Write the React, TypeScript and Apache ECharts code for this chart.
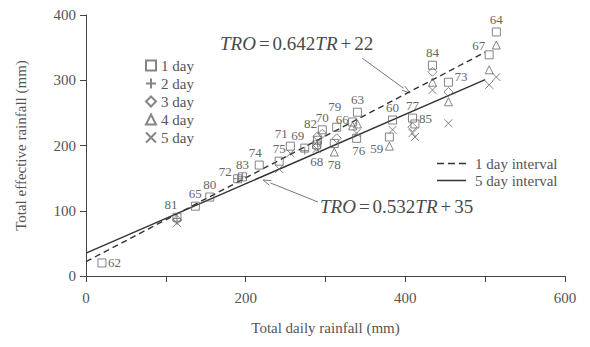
import React, { useEffect, useRef } from "react";
import * as echarts from "echarts";

// ---- data ----
const events = ["62","81","65","80","72","83","74","75","71","69","68","82","70","79","78","66","63","76","59","60","77","85","84","73","67","64"];
const totalRain = [20,114,137,155,190,196,217,242,256,274,289,290,296,314,311,334,340,339,380,384,409,412,434,454,505,514];
const day1 = [20,90,107,121,149,152,170,176,199,196,201,208,224,228,203,236,251,211,213,239,242,233,323,297,339,374];
const day2 = [null,88,null,null,149,152,null,null,null,192,null,204,null,null,null,null,null,null,null,null,null,null,null,null,null,null];
const day3 = [null,86,null,null,null,null,null,null,null,null,198,214,218,211,null,null,null,null,null,null,228,null,313,282,null,null];
const day4 = [null,null,null,null,null,null,null,null,null,null,null,null,null,null,190,230,233,null,199,null,null,null,297,267,316,354];
const day5 = [null,81,null,null,null,null,null,164,188,null,195,null,null,null,null,null,null,219,null,224,219,213,285,234,293,305];
const fit1Day = [[0,22],[500,343]];
const fit5Day = [[0,35],[500,301]];
const xTicks = [0,200,400,600];

// ---- label placement (style) ----
const labelPlace: Record<string, { pos: string; off: number[]; low?: boolean }> = {
  "62": { pos: "right", off: [0, 0] },
  "81": { pos: "top", off: [-6, 0] },
  "65": { pos: "top", off: [0, 0] },
  "80": { pos: "top", off: [0, 0] },
  "72": { pos: "left", off: [0, -7] },
  "83": { pos: "top", off: [0, 0] },
  "74": { pos: "top", off: [-4, 0] },
  "75": { pos: "top", off: [0, 0] },
  "71": { pos: "top", off: [-9, 0] },
  "69": { pos: "top", off: [-7, 0] },
  "68": { pos: "bottom", off: [0, 0], low: true },
  "82": { pos: "top", off: [-7, 0] },
  "70": { pos: "top", off: [0, 0] },
  "79": { pos: "top", off: [-2, -8] },
  "78": { pos: "bottom", off: [0, 0], low: true },
  "66": { pos: "left", off: [2, -3] },
  "63": { pos: "top", off: [0, 0] },
  "76": { pos: "bottom", off: [2, 0], low: true },
  "59": { pos: "left", off: [0, 2], low: true },
  "60": { pos: "top", off: [0, 0] },
  "77": { pos: "top", off: [0, 0] },
  "85": { pos: "right", off: [-2, -5] },
  "84": { pos: "top", off: [0, 0] },
  "73": { pos: "right", off: [0, -6] },
  "67": { pos: "left", off: [2, -9] },
  "64": { pos: "top", off: [0, 0] },
};

const FONT = "'Liberation Serif', 'DejaVu Serif', serif";
const INK = "#555";

function pts(vals: (number | null)[]) {
  const out: number[][] = [];
  vals.forEach((v, i) => { if (v !== null) out.push([totalRain[i], v]); });
  return out;
}

function arrow(x1: number, y1: number, x2: number, y2: number) {
  const a = Math.atan2(y2 - y1, x2 - x1);
  const L = 8, W = 2.5;
  const bx = x2 - L * Math.cos(a), by = y2 - L * Math.sin(a);
  const px = -Math.sin(a) * W, py = Math.cos(a) * W;
  return [
    { type: "line", shape: { x1, y1, x2: bx, y2: by }, style: { stroke: "#777", lineWidth: 1 } },
    { type: "polyline", shape: { points: [[bx + px, by + py], [x2, y2], [bx - px, by - py]] }, style: { stroke: "#777", lineWidth: 1, fill: "none" } },
  ];
}

export default function App() {
  const ref = useRef<HTMLDivElement>(null);
  useEffect(() => {
    const chart = echarts.init(ref.current!, null, { renderer: "svg" });
    const sym = { color: "transparent", borderColor: "#666", borderWidth: 1 };
    const mk = (name: string, symbol: string, vals: (number | null)[], size = 8) => ({
      name, type: "scatter", symbol, symbolSize: size, data: pts(vals), itemStyle: sym, z: 3,
    });
    const labelData = events.map((e, i) => {
      const p = labelPlace[e];
      const stack = [day1[i], day2[i], day3[i], day4[i], day5[i]].filter((v) => v !== null) as number[];
      const y = p.low ? Math.min(...stack) : Math.max(...stack);
      return [totalRain[i], y, i];
    });
    const base = { fontFamily: FONT, fontSize: 19, fill: "#4a4a4a", fontWeight: "normal" };
    const rich = {
      i: { ...base, fontStyle: "italic" },
      n: { ...base },
      o: { ...base, padding: [0, 3, 0, 3] },
    };
    chart.setOption({
      animation: false,
      backgroundColor: "#fff",
      color: ["#666"],
      textStyle: { fontFamily: FONT },
      grid: { left: 86, right: 25, top: 15, bottom: 71, containLabel: false, outerBoundsMode: "none" },
      xAxis: {
        type: "value", min: 0, max: 600, interval: 100,
        name: "Total daily rainfall (mm)", nameLocation: "middle", nameGap: 44,
        nameTextStyle: { fontFamily: FONT, fontSize: 15, color: INK },
        axisLine: { lineStyle: { color: "#444" } },
        axisTick: { inside: false, length: 6, lineStyle: { color: "#444" } },
        axisLabel: {
          margin: 14, fontFamily: FONT, fontSize: 15, color: INK,
          formatter: (v: number) => (xTicks.includes(v) ? String(v) : ""),
        },
        splitLine: { show: false },
      },
      yAxis: {
        type: "value", min: 0, max: 400, interval: 100,
        name: "Total effective rainfall (mm)", nameLocation: "middle", nameGap: 58,
        nameTextStyle: { fontFamily: FONT, fontSize: 15, color: INK },
        axisLine: { show: true, lineStyle: { color: "#444" } },
        axisTick: { show: true, inside: false, length: 6, lineStyle: { color: "#444" } },
        axisLabel: { margin: 10, fontFamily: FONT, fontSize: 15, color: INK },
        splitLine: { show: false },
      },
      legend: [
        {
          data: ["1 day", "2 day", "3 day", "4 day", "5 day"],
          orient: "vertical", left: 140, top: 53, itemGap: 3,
          itemWidth: 10, itemHeight: 10,
          textStyle: { fontFamily: FONT, fontSize: 15, color: INK },
          selectedMode: false,
        },
        {
          data: [
            { name: "1 day interval", icon: "path://M0,0h7v1.5h-7zM11,0h7v1.5h-7zM22,0h7v1.5h-7z" },
            { name: "5 day interval", icon: "path://M0,0h29v1.5h-29z" },
          ],
          orient: "vertical", left: 432, top: 151, itemGap: 2,
          itemWidth: 29, itemHeight: 1.5,
          itemStyle: { color: "#333", borderWidth: 0 },
          textStyle: { fontFamily: FONT, fontSize: 15, color: INK, padding: [0, 0, 0, 4] },
          selectedMode: false,
        },
      ],
      series: [
        mk("1 day", "rect", day1),
        mk("2 day", "path://M5,0L5,10M0,5L10,5", day2),
        mk("3 day", "diamond", day3, 9),
        mk("4 day", "triangle", day4),
        mk("5 day", "path://M0,0L10,10M10,0L0,10", day5, 8),
        {
          name: "1 day interval", type: "line", data: fit1Day, symbol: "none",
          lineStyle: { color: "#333", width: 1.4, type: [6, 4] }, itemStyle: { color: "#333" }, z: 2,
        },
        {
          name: "5 day interval", type: "line", data: fit5Day, symbol: "none",
          lineStyle: { color: "#333", width: 1.4, type: "solid" }, itemStyle: { color: "#333" }, z: 2,
        },
        {
          name: "labels", type: "custom", silent: true, data: labelData, z: 4,
          encode: { x: 0, y: 1 },
          renderItem: (params: any, api: any) => {
            const c = api.coord([api.value(0), api.value(1)]);
            const e = events[api.value(2)];
            const p = labelPlace[e];
            let x = c[0], y = c[1];
            let align = "center", va = "middle";
            const d = 6;
            if (p.pos === "top") { y -= d; va = "bottom"; }
            else if (p.pos === "bottom") { y += d; va = "top"; }
            else if (p.pos === "left") { x -= d; align = "right"; }
            else { x += d; align = "left"; }
            return {
              type: "text", x: x + p.off[0], y: y + p.off[1],
              style: { text: e, fill: "#666", fontFamily: FONT, fontSize: 13, align, verticalAlign: va },
            };
          },
        },
      ],
      graphic: [
        {
          type: "text", left: 220, top: 34,
          style: { text: "{i|TRO}{o|=}{n|0.642}{i|TR}{o|+}{n|22}", rich },
        },
        {
          type: "text", left: 320, top: 197,
          style: { text: "{i|TRO}{o|=}{n|0.532}{i|TR}{o|+}{n|35}", rich },
        },
        ...arrow(362, 58, 410, 93),
        ...arrow(318, 202, 263, 180),
      ],
    });
    return () => chart.dispose();
  }, []);
  return <div ref={ref} style={{ position: "fixed", left: 0, top: 0, width: 590, height: 347 }} />;
}
